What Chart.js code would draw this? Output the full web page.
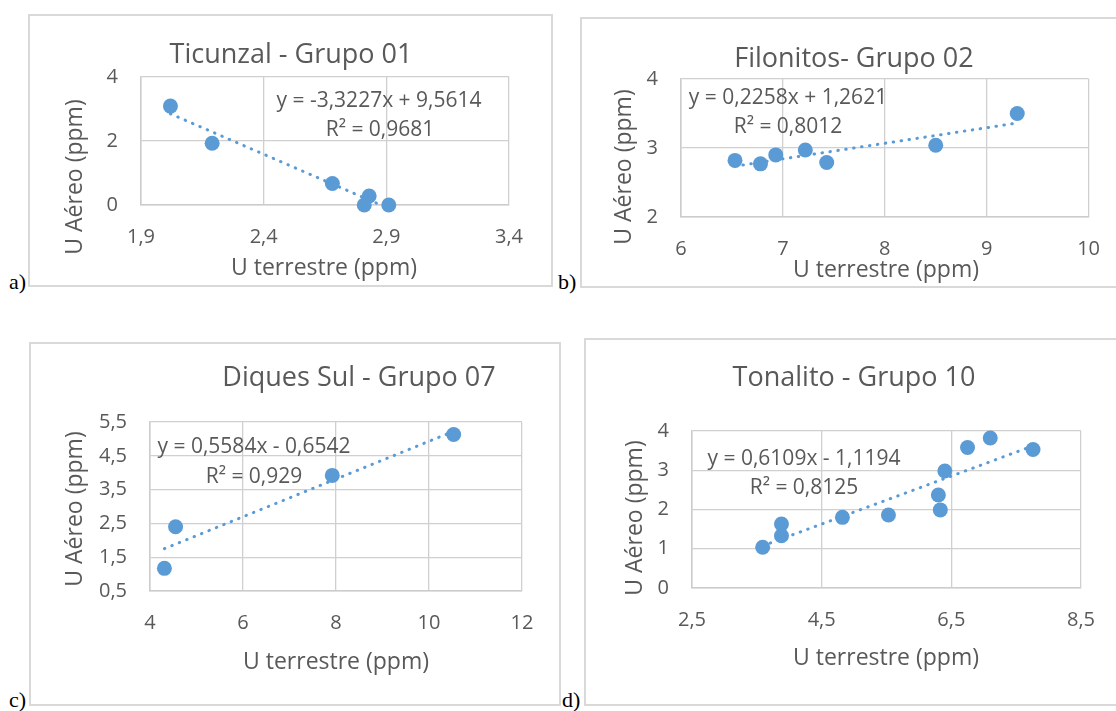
<!DOCTYPE html>
<html lang="pt">
<head>
    <meta charset="UTF-8">
    <title>U Aéreo x U terrestre</title>
    <script src="https://cdn.jsdelivr.net/npm/chart.js"></script>
    <style>
        body {
            margin: 0;
            width: 1116px;
            height: 711px;
            position: relative;
            overflow: hidden;
            background: #fff;
        }

        .frame {
            position: absolute;
            box-sizing: border-box;
            border: 2px solid #d9d9d9;
        }

        canvas {
            position: absolute;
        }

        .tag {
            position: absolute;
            font-family: "Liberation Serif", serif;
            font-size: 22px;
            line-height: 22px;
            color: #000;
        }
    </style>
</head>
<body>
    <div class="frame" style="left:28px;top:14px;width:525px;height:273px"></div>
    <div class="frame" style="left:580px;top:17px;width:560px;height:271px"></div>
    <div class="frame" style="left:29px;top:342px;width:532px;height:364px"></div>
    <div class="frame" style="left:584px;top:338px;width:560px;height:368px"></div>

    <canvas id="chartA" width="525" height="273" style="left:28px;top:14px"></canvas>
    <canvas id="chartB" width="540" height="271" style="left:580px;top:17px"></canvas>
    <canvas id="chartC" width="532" height="364" style="left:29px;top:342px"></canvas>
    <canvas id="chartD" width="536" height="368" style="left:584px;top:338px"></canvas>

    <div class="tag" style="left:9px;top:271px">a)</div>
    <div class="tag" style="left:558px;top:271px">b)</div>
    <div class="tag" style="left:9px;top:689px">c)</div>
    <div class="tag" style="left:562px;top:689px">d)</div>

    <script>
        // a) Ticunzal - Grupo 01
        const ticunzalX = [2.02, 2.19, 2.68, 2.83, 2.81, 2.91];
        const ticunzalY = [3.09, 1.93, 0.67, 0.28, 0.00, 0.00];
        const ticunzalFit = [-3.3227, 9.5614, 0.9681];   // slope, intercept, R²
        const ticunzalXTicks = [1.9, 2.4, 2.9, 3.4];
        const ticunzalYTicks = [0, 2, 4];

        // b) Filonitos - Grupo 02
        const filonitosX = [6.53, 6.78, 6.93, 7.22, 7.43, 8.50, 9.30];
        const filonitosY = [2.82, 2.77, 2.90, 2.97, 2.79, 3.04, 3.50];
        const filonitosFit = [0.2258, 1.2621, 0.8012];
        const filonitosXTicks = [6, 7, 8, 9, 10];
        const filonitosYTicks = [2, 3, 4];

        // c) Diques Sul - Grupo 07
        const diquesX = [4.31, 4.55, 7.92, 10.53];
        const diquesY = [1.17, 2.40, 3.92, 5.13];
        const diquesFit = [0.5584, -0.6542, 0.929];
        const diquesXTicks = [4, 6, 8, 10, 12];
        const diquesYTicks = [0.5, 1.5, 2.5, 3.5, 4.5, 5.5];

        // d) Tonalito - Grupo 10
        const tonalitoX = [3.59, 3.88, 3.88, 4.82, 5.53, 6.30, 6.33, 6.40, 6.75, 7.10, 7.76];
        const tonalitoY = [1.04, 1.63, 1.33, 1.80, 1.86, 2.37, 1.99, 2.98, 3.58, 3.82, 3.53];
        const tonalitoFit = [0.6109, -1.1194, 0.8125];
        const tonalitoXTicks = [2.5, 4.5, 6.5, 8.5];
        const tonalitoYTicks = [0, 1, 2, 3, 4];

        const chartTitles = ['Ticunzal - Grupo 01', 'Filonitos- Grupo 02', 'Diques Sul - Grupo 07', 'Tonalito - Grupo 10'];
        const xAxisTitle = 'U terrestre (ppm)';
        const yAxisTitle = 'U Aéreo (ppm)';

        const BLUE = '#5b9bd5';
        const GREY = '#595959';
        const FONT = 'Open Sans';
        const AXIS_W = 70;
        const AXIS_H = 70;

        const fmt = v => String(v).replace('.', ',');
        const f4 = v => v.toFixed(4).replace('.', ',');

        // titles, axis titles and trendline labels, placed in page pixels
        const textPlugin = {
            id: 'panelText',
            afterDraw(chart, args, opts) {
                const ctx = chart.ctx;
                (opts.items || []).forEach(t => {
                    ctx.save();
                    ctx.font = t.size + 'px "' + FONT + '"';
                    ctx.fillStyle = GREY;
                    ctx.textAlign = 'center';
                    ctx.textBaseline = 'middle';
                    ctx.translate(t.x, t.y);
                    if (t.rot) ctx.rotate(t.rot);
                    ctx.fillText(t.text, 0, 0);
                    ctx.restore();
                });
            }
        };

        const panels = [
            { id: 'chartA', box: [28, 14, 525, 273], plot: [141, 77, 509, 205],
              xs: ticunzalX, ys: ticunzalY, fit: ticunzalFit, xTicks: ticunzalXTicks, yTicks: ticunzalYTicks,
              title: [291, 55], eq: [379, 101], r2: [380, 130], xTitle: [324, 268], yTitle: [75, 177] },
            { id: 'chartB', box: [580, 17, 540, 271], plot: [681, 79, 1091, 217],
              xs: filonitosX, ys: filonitosY, fit: filonitosFit, xTicks: filonitosXTicks, yTicks: filonitosYTicks,
              title: [854, 59], eq: [788, 98], r2: [788, 127], xTitle: [886, 270], yTitle: [624, 167] },
            { id: 'chartC', box: [29, 342, 532, 364], plot: [150, 422, 522, 591],
              xs: diquesX, ys: diquesY, fit: diquesFit, xTicks: diquesXTicks, yTicks: diquesYTicks,
              title: [359, 378], eq: [254, 447], r2: [254, 477], xTitle: [336, 662], yTitle: [75, 509] },
            { id: 'chartD', box: [584, 338, 536, 368], plot: [692, 431, 1081, 588],
              xs: tonalitoX, ys: tonalitoY, fit: tonalitoFit, xTicks: tonalitoXTicks, yTicks: tonalitoYTicks,
              title: [854, 378], eq: [804, 459], r2: [804, 488], xTitle: [886, 658], yTitle: [635, 518] }
        ];

        function axis(ticks, padding, fitFn) {
            return {
                type: 'linear',
                min: ticks[0],
                max: ticks[ticks.length - 1],
                afterBuildTicks: s => { s.ticks = ticks.map(v => ({ value: v })); },
                afterFit: fitFn,
                grid: { color: '#d0d0d0', lineWidth: 1.3, drawTicks: false },
                border: { color: '#cccccc', width: 1.5 },
                ticks: {
                    padding: padding,
                    color: GREY,
                    font: { family: FONT, size: 20 },
                    callback: v => fmt(v)
                }
            };
        }

        panels.forEach((p, i) => {
            const [bx, by, bw, bh] = p.box;
            const [pl, pt, pr, pb] = p.plot;
            const [slope, icpt, r2] = p.fit;

            const points = p.xs.map((x, k) => ({ x: x, y: p.ys[k] }));
            const xMin = Math.min(...p.xs);
            const xMax = Math.max(...p.xs);
            const trend = [
                { x: xMin, y: slope * xMin + icpt },
                { x: xMax, y: slope * xMax + icpt }
            ];

            const eqText = 'y = ' + f4(slope) + 'x ' + (icpt < 0 ? '- ' : '+ ') + f4(Math.abs(icpt));
            const r2Text = 'R² = ' + fmt(r2);
            const at = (pos, text, size, rot) => ({ x: pos[0] - bx, y: pos[1] - by, text, size, rot });

            new Chart(document.getElementById(p.id), {
                type: 'scatter',
                data: {
                    datasets: [
                        {
                            data: trend,
                            showLine: true,
                            borderColor: BLUE,
                            borderWidth: 3,
                            borderDash: [0.5, 7.5],
                            borderCapStyle: 'round',
                            pointRadius: 0,
                            fill: false,
                            clip: false
                        },
                        {
                            data: points,
                            backgroundColor: BLUE,
                            borderWidth: 0,
                            pointRadius: 7.5,
                            pointHoverRadius: 7.5,
                            clip: false
                        }
                    ]
                },
                options: {
                    responsive: false,
                    animation: false,
                    events: [],
                    layout: {
                        padding: {
                            left: pl - bx - AXIS_W,
                            top: pt - by,
                            right: bx + bw - pr,
                            bottom: by + bh - pb - AXIS_H
                        }
                    },
                    plugins: {
                        legend: { display: false },
                        tooltip: { enabled: false },
                        panelText: {
                            items: [
                                at(p.title, chartTitles[i], 27),
                                at(p.eq, eqText, 21),
                                at(p.r2, r2Text, 21),
                                at(p.xTitle, xAxisTitle, 23),
                                at(p.yTitle, yAxisTitle, 23, -Math.PI / 2)
                            ]
                        }
                    },
                    scales: {
                        x: axis(p.xTicks, 20, s => { s.height = AXIS_H; }),
                        y: axis(p.yTicks, 23, s => { s.width = AXIS_W; })
                    }
                },
                plugins: [textPlugin]
            });
        });
    </script>
</body>
</html>
